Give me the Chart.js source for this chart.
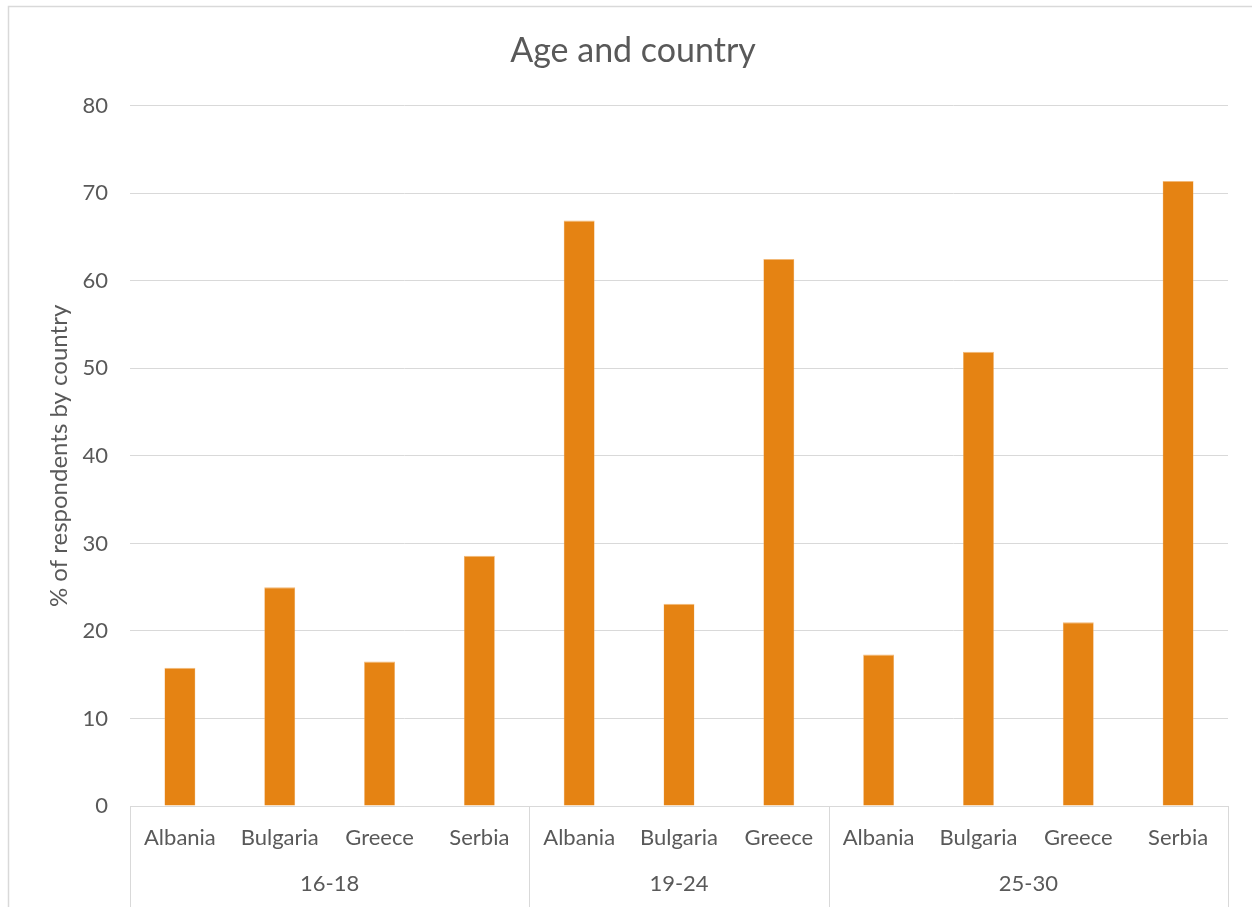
<!DOCTYPE html>
<html>
<head>
<meta charset="utf-8">
<script src="https://cdn.jsdelivr.net/npm/chart.js@4"></script>
<style>
body{margin:0;background:#fff;}
#wrap{width:1252px;height:907px;position:relative;}
</style>
</head>
<body>
<div id="wrap"><canvas id="chart"></canvas></div>
<script>
// data
const countries = ["Albania","Bulgaria","Greece","Serbia","Albania","Bulgaria","Greece","Albania","Bulgaria","Greece","Serbia"];
const ageGroups = ["16-18","19-24","25-30"];
const groupSizes = [4,3,4];
const values = [15.8,25.0,16.5,28.6,66.9,23.1,62.5,17.3,51.9,21.0,71.4];
const yTicks = [0,10,20,30,40,50,60,70,80];

const textColor = "#595959";
const lineColor = "#d9d9d9";
const fontFamily = "Lato, 'Open Sans', sans-serif";

// white background + light frame like the excel chart area
const frame = {
id:"frame",
beforeDraw(chart){
const c=chart.ctx;
c.save();
c.fillStyle="#fff";
c.fillRect(0,0,chart.width,chart.height);
c.strokeStyle=lineColor;
c.lineWidth=1.5;
c.strokeRect(8.5,6.5,chart.width+20,chart.height+20);
c.restore();
}
};

// second level of the category axis: age groups
const groupAxis = {
id:"groupAxis",
afterDraw(chart){
const c=chart.ctx;
const x=chart.scales.x;
const area=chart.chartArea;
const step=(area.right-area.left)/countries.length;
c.save();
c.strokeStyle=lineColor;
c.lineWidth=1;
c.fillStyle=textColor;
c.font="22px "+fontFamily;
c.textAlign="center";
c.textBaseline="middle";
let start=0;
const edge=i=>x.getPixelForValue(i)-step/2;
c.beginPath();
c.moveTo(Math.round(edge(0))+0.5,area.bottom);
c.lineTo(Math.round(edge(0))+0.5,chart.height);
c.stroke();
groupSizes.forEach((n,g)=>{
const l=edge(start);
const r=edge(start+n);
c.beginPath();
c.moveTo(Math.round(r)+0.5,area.bottom);
c.lineTo(Math.round(r)+0.5,chart.height);
c.stroke();
c.fillText(ageGroups[g],(l+r)/2,884);
start+=n;
});
c.restore();
}
};

new Chart(document.getElementById("chart"),{
type:"bar",
data:{
labels:countries,
datasets:[{
label:"% of respondents",
data:values,
backgroundColor:"#E58313",
borderColor:"#F2B978",
borderWidth:{top:1,left:0.5,right:0.5,bottom:0},
barPercentage:0.31,
categoryPercentage:1
}]
},
options:{
responsive:true,
maintainAspectRatio:false,
animation:false,
layout:{padding:{top:31,left:14,right:0,bottom:0}},
plugins:{
legend:{display:false},
tooltip:{enabled:false},
title:{
display:true,
text:"Age and country",
color:textColor,
font:{family:fontFamily,size:34,weight:"normal"},
padding:{top:0,bottom:34}
}
},
scales:{
x:{
grid:{display:false},
border:{display:true,color:lineColor,width:1},
ticks:{color:textColor,font:{family:fontFamily,size:22},padding:11,maxRotation:0,autoSkip:false},
afterFit(s){s.height=101;}
},
y:{
min:0,
max:80,
afterBuildTicks(s){s.ticks=yTicks.map(v=>({value:v}));},
grid:{color:lineColor,lineWidth:1,drawTicks:false},
border:{display:false},
ticks:{color:textColor,font:{family:fontFamily,size:22},padding:22},
title:{
display:true,
text:"% of respondents by country",
color:textColor,
font:{family:fontFamily,size:24},
padding:{top:31,bottom:0}
},
afterFit(s){s.width=116;}
},
// empty strip on the right so the plot ends where the excel one does
yRight:{
position:"right",
display:true,
grid:{display:false},
border:{display:false},
ticks:{display:false},
afterFit(s){s.width=24;}
}
}
},
plugins:[frame,groupAxis]
});
</script>
</body>
</html>
